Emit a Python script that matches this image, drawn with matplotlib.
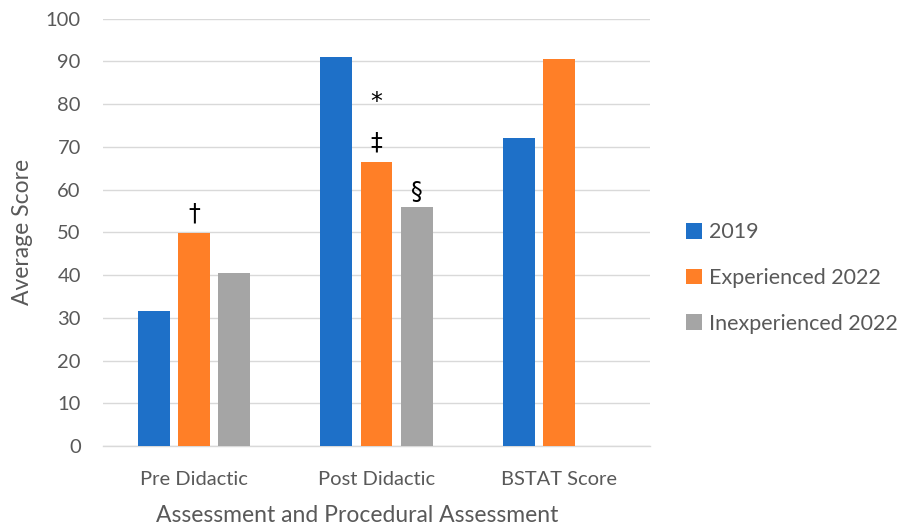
import matplotlib
matplotlib.use("Agg")
import matplotlib.pyplot as plt
import numpy as np

categories = ["Pre Didactic", "Post Didactic", "BSTAT Score"]
series_names = ["2019", "Experienced 2022", "Inexperienced 2022"]
scores_2019 = [31.6, 90.9, 72.0]
scores_exp_2022 = [49.9, 66.5, 90.5]
scores_inexp_2022 = [40.5, 56.0, np.nan]
colors = ["#1E70C8", "#FF7F27", "#A5A5A5"]

# significance markers: (category index, series index, symbol, y position)
markers = [(0, 1, "\u2020", 54.5), (1, 1, "\u2021", 71.0),
           (1, 1, "*", 80.5), (1, 2, "\u00a7", 59.5)]

plt.rcParams["font.family"] = ["Lato", "DejaVu Sans"]
text_color = "#595959"

fig = plt.figure(figsize=(9.06, 5.31), dpi=100)
ax = fig.add_axes([0.1137, 0.160, 0.6037, 0.805])

x = np.arange(len(categories))
width = 0.175
offsets = [-0.22, 0.0, 0.22]
all_series = [scores_2019, scores_exp_2022, scores_inexp_2022]
for vals, off, col, name in zip(all_series, offsets, colors, series_names):
    ax.bar(x + off, vals, width, color=col, label=name, zorder=3)

for ci, si, sym, yv in markers:
    ax.text(x[ci] + offsets[si], yv, sym, ha="center", va="center",
            fontsize=17, color="black", family=["DejaVu Sans"], zorder=4)

ax.set_xlim(-0.5, 2.5)
ax.set_ylim(0, 100)
ax.set_yticks(np.arange(0, 101, 10))
ax.set_xticks(x)
ax.set_xticklabels(categories)
ax.yaxis.grid(True, color="#D9D9D9", linewidth=1.0, zorder=0)
ax.set_axisbelow(True)
for side in ["top", "right", "left"]:
    ax.spines[side].set_visible(False)
ax.spines["bottom"].set_color("#D9D9D9")
ax.spines["bottom"].set_linewidth(1.0)
ax.tick_params(axis="both", length=0, labelsize=14.5, colors=text_color)
ax.tick_params(axis="x", pad=18)
ax.tick_params(axis="y", pad=16)

ax.set_ylabel("Average Score", fontsize=16.5, color=text_color, labelpad=9)
ax.set_xlabel("Assessment and Procedural Assessment", fontsize=16.5,
              color=text_color, labelpad=12)
ax.xaxis.label.set_x(0.465)

leg = ax.legend(loc="center left", bbox_to_anchor=(1.03, 0.393), frameon=False,
                fontsize=15.5, handlelength=0.75, handleheight=0.75,
                handletextpad=0.35, labelspacing=1.2)
for t in leg.get_texts():
    t.set_color(text_color)

fig.savefig("out.png", dpi=100, facecolor="white")
